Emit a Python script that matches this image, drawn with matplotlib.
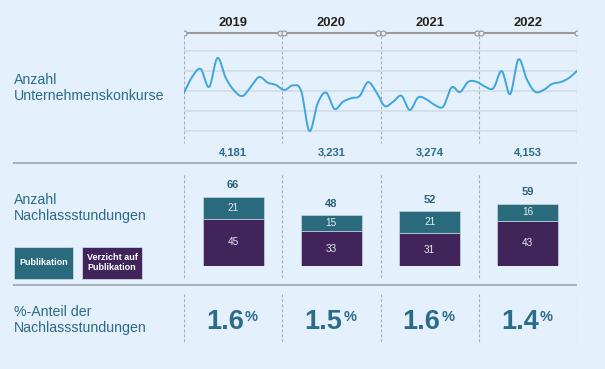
"""Konkurse und Nachlassstundungen 2019-2022."""

import matplotlib

matplotlib.use("Agg")
import matplotlib.pyplot as plt
import numpy as np
from matplotlib.patches import Rectangle

plt.rcParams["font.family"] = ["Liberation Sans", "DejaVu Sans"]

# --- data -------------------------------------------------------------------
years = ["2019", "2020", "2021", "2022"]
konkurse_total = ["4,181", "3,231", "3,274", "4,153"]
# monthly bankruptcies, Jan 2019 .. Dec 2022
konkurse_monthly = [
    292, 372, 410, 320, 465, 365, 302, 275, 322, 370, 342, 330,
    305, 328, 302, 100, 240, 292, 210, 246, 264, 275, 344, 295,
    225, 246, 276, 205, 268, 258, 230, 222, 318, 295, 346, 346,
    322, 314, 400, 284, 458, 358, 296, 305, 335, 344, 364, 400,
]
publikation = [21, 15, 21, 16]
verzicht = [45, 33, 31, 43]
anteil = ["1.6", "1.5", "1.6", "1.4"]

BG = "#e4f0fb"
TEAL_TEXT = "#2b6b8b"
TEAL_BAR = "#2a6a7d"
PURPLE_BAR = "#41245a"
LINE = "#3ea5de"
GRID = "#d2dce6"
SEP = "#a8b2ba"
DASH = "#a3abb3"

W, H = 605, 369


def _rect(left, top, width, height):
    return [left / W, 1 - (top + height) / H, width / W, height / H]


def _smooth(x, y, steps=16):
    # Catmull-Rom through the monthly points, only for drawing
    x = np.asarray(x, dtype=float)
    y = np.asarray(y, dtype=float)
    xp = np.concatenate([[2 * x[0] - x[1]], x, [2 * x[-1] - x[-2]]])
    yp = np.concatenate([[2 * y[0] - y[1]], y, [2 * y[-1] - y[-2]]])
    t = np.linspace(0, 1, steps, endpoint=False)
    out_x, out_y = [], []
    for i in range(1, len(xp) - 2):
        for arr, out in ((xp, out_x), (yp, out_y)):
            p0, p1, p2, p3 = arr[i - 1], arr[i], arr[i + 1], arr[i + 2]
            out.extend(
                0.5 * (2 * p1 + (-p0 + p2) * t
                       + (2 * p0 - 5 * p1 + 4 * p2 - p3) * t ** 2
                       + (-p0 + 3 * p1 - 3 * p2 + p3) * t ** 3)
            )
    out_x.append(x[-1])
    out_y.append(y[-1])
    return np.array(out_x), np.array(out_y)


fig = plt.figure(figsize=(W / 100, H / 100), dpi=100, facecolor=BG)

# page layer in pixel coordinates
page = fig.add_axes([0, 0, 1, 1])
page.set_xlim(0, W)
page.set_ylim(H, 0)
page.axis("off")

label_kw = dict(color=TEAL_TEXT, fontsize=10.2, ha="left", va="center", linespacing=1.25)
page.text(14, 88, "Anzahl\nUnternehmenskonkurse", **label_kw)
page.text(14, 208, "Anzahl\nNachlassstundungen", **label_kw)
page.text(14, 320, "%-Anteil der\nNachlassstundungen", **label_kw)

for y in (162.5, 285):
    page.plot([13, 577], [y, y], color=SEP, lw=1.5, solid_capstyle="butt")

# legend boxes
for x0, w, color, text in ((14, 59, TEAL_BAR, "Publikation"),
                           (82, 60, PURPLE_BAR, "Verzicht auf\nPublikation")):
    page.add_patch(Rectangle((x0, 247), w, 31.5, facecolor=color,
                             edgecolor="#c9d5e2", lw=0.6))
    page.text(x0 + w / 2, 262.5, text, color="white", fontsize=6.5,
              fontweight="bold", ha="center", va="center", linespacing=1.15)

# column layer: x = year index, y = pixels
cols = fig.add_axes(_rect(184, 0, 393, H))
cols.set_xlim(-0.5, len(years) - 0.5)
cols.set_ylim(H, 0)
cols.axis("off")
idx = np.arange(len(years))
edges = np.arange(len(years) + 1) - 0.5

dash_kw = dict(color=DASH, lw=0.8, linestyles=(0, (2.5, 2)))
cols.vlines(edges, 36, 143, **dash_kw)
cols.vlines(edges, 175, 279, **dash_kw)
cols.vlines(edges, 294, 343, **dash_kw)

cols.plot([edges[0], edges[-1]], [33, 33], color="#9b9b9b", lw=1.5)
marks = np.concatenate([[edges[0]], edges[1:-1] - 0.022, edges[1:-1] + 0.022, [edges[-1]]])
cols.plot(marks, np.full(len(marks), 33), ls="none", marker="o", ms=3.6,
          mfc=BG, mec="#9b9b9b", mew=0.9)

for i, year in enumerate(years):
    cols.text(i, 23, year, fontsize=9.4, fontweight="bold", color="#222222",
              ha="center", va="center")
    cols.text(i, 152.5, konkurse_total[i], fontsize=8, fontweight="bold",
              color=TEAL_TEXT, ha="center", va="center")
    cols.annotate(anteil[i], (i, 329), xytext=(11, 0), textcoords="offset pixels",
                  fontsize=19.5, fontweight="bold", color=TEAL_TEXT,
                  ha="right", va="baseline")
    cols.annotate("%", (i, 329), xytext=(12, 8), textcoords="offset pixels",
                  fontsize=10.5, fontweight="bold", color=TEAL_TEXT,
                  ha="left", va="baseline")

# monthly line
line_ax = fig.add_axes(_rect(184, 31, 393, 110))
line_ax.patch.set_alpha(0)
months = np.arange(len(konkurse_monthly))
sx, sy = _smooth(months, konkurse_monthly)
line_ax.plot(sx, sy, color=LINE, lw=1.4, zorder=3)
line_ax.set_xlim(0, len(konkurse_monthly) - 1)
line_ax.set_ylim(50, 600)
line_ax.set_yticks([100, 200, 300, 400, 500])
line_ax.grid(axis="y", color=GRID, lw=1.2)
line_ax.tick_params(left=False, bottom=False, labelleft=False, labelbottom=False)
for spine in line_ax.spines.values():
    spine.set_visible(False)

# stacked bars
bar_ax = fig.add_axes(_rect(184, 166, 393, 100))
bar_ax.patch.set_alpha(0)
bar_ax.set_xlim(-0.5, len(years) - 0.5)
bar_ax.set_ylim(0, 95)
bar_ax.axis("off")
bar_ax.bar(idx, verzicht, width=0.62, color=PURPLE_BAR, edgecolor="#c9d5e2", lw=0.5)
bar_ax.bar(idx, publikation, bottom=verzicht, width=0.62, color=TEAL_BAR,
           edgecolor="#c9d5e2", lw=0.5)
for i in idx:
    total = verzicht[i] + publikation[i]
    bar_ax.text(i, verzicht[i] / 2, str(verzicht[i]), color="#e6e8f2",
                fontsize=7.2, ha="center", va="center")
    bar_ax.text(i, verzicht[i] + publikation[i] / 2, str(publikation[i]),
                color="#e6eef2", fontsize=7.2, ha="center", va="center")
    bar_ax.annotate(str(total), (i, total), xytext=(0, 11.5), textcoords="offset pixels",
                    fontsize=8, fontweight="bold", color="#2d5f78",
                    ha="center", va="center")

fig.savefig("out.png", dpi=100, facecolor=BG)
